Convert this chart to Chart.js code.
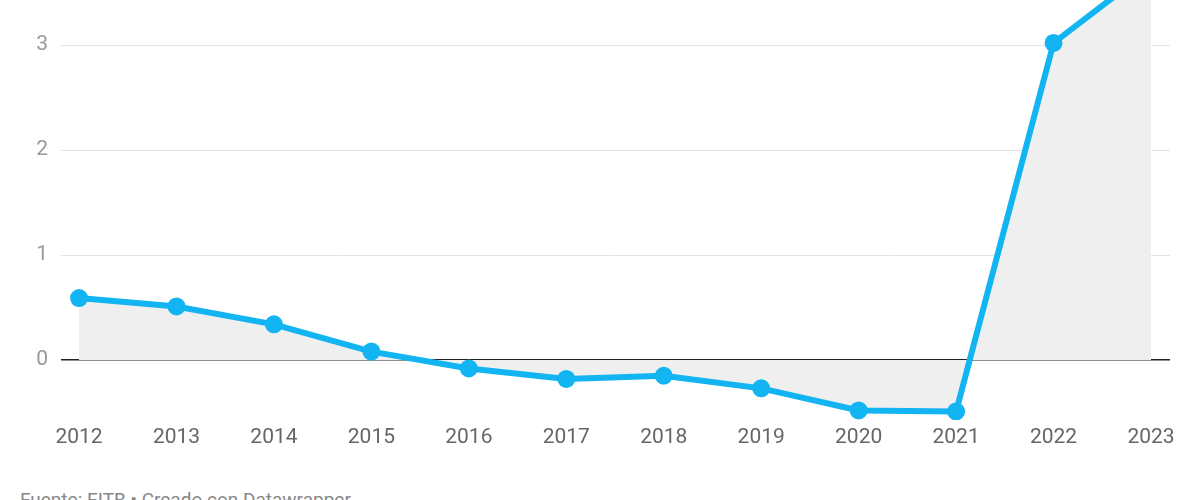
<!DOCTYPE html>
<html>
<head>
<meta charset="utf-8">
<script src="https://cdn.jsdelivr.net/npm/chart.js@4"></script>
<style>
  html, body { margin: 0; padding: 0; background: #fff; overflow: hidden; }
  #wrap { position: absolute; left: 0; top: 0; width: 1200px; height: 460px; }
  #footer {
    position: absolute; left: 20px; top: 488px;
    font-family: Roboto, sans-serif; font-size: 19px; color: #888;
    white-space: nowrap;
  }
</style>
</head>
<body>
<div id="wrap"><canvas id="chart"></canvas></div>
<div id="footer">Fuente: EITB • Creado con Datawrapper</div>
<script>
const years = [2012, 2013, 2014, 2015, 2016, 2017, 2018, 2019, 2020, 2021, 2022, 2023];
const values = [0.59, 0.51, 0.34, 0.08, -0.08, -0.18, -0.15, -0.27, -0.48, -0.49, 3.02, 3.73];
const yTicks = [0, 1, 2, 3];

const lineColor = '#12b4f2';

const ctx = document.getElementById('chart').getContext('2d');
new Chart(ctx, {
    type: 'line',
    data: {
        datasets: [{
            data: years.map((y, i) => ({ x: y, y: values[i] })),
            borderColor: lineColor,
            backgroundColor: '#efefef',
            borderWidth: 6,
            pointRadius: 9,
            pointBackgroundColor: lineColor,
            pointBorderWidth: 0,
            fill: 'origin',
            tension: 0,
        }],
    },
    options: {
        responsive: true,
        maintainAspectRatio: false,
        animation: false,
        layout: { autoPadding: false, padding: { top: 0, right: 30, bottom: 0, left: 0 } },
        plugins: {
            legend: { display: false },
            tooltip: { enabled: false },
        },
        scales: {
            x: {
                type: 'linear',
                min: 2011.815,
                max: 2023.195,
                afterBuildTicks: scale => { scale.ticks = years.map(v => ({ value: v })); },
                afterFit: scale => { scale.height = 40; },
                grid: { display: false, drawTicks: false },
                border: { display: false },
                ticks: {
                    padding: 5,
                    color: '#666',
                    font: { family: 'Roboto', size: 21 },
                    callback: v => String(v),
                    maxRotation: 0,
                    autoSkip: false,
                },
            },
            y: {
                min: -0.5714,
                max: 3.4286,
                afterBuildTicks: scale => { scale.ticks = yTicks.map(v => ({ value: v })); },
                afterFit: scale => {
                    scale.width = 61;
                    scale.paddingTop = 0;
                    scale.paddingBottom = 0;
                },
                border: { display: false },
                grid: {
                    color: c => c.tick && c.tick.value === 0 ? '#222' : '#e3e3e3',
                    lineWidth: c => c.tick && c.tick.value === 0 ? 1.5 : 1,
                    drawTicks: false,
                },
                ticks: {
                    padding: 13,
                    color: '#999',
                    font: { family: 'Roboto', size: 21 },
                },
            },
        },
    },
});
</script>
</body>
</html>
